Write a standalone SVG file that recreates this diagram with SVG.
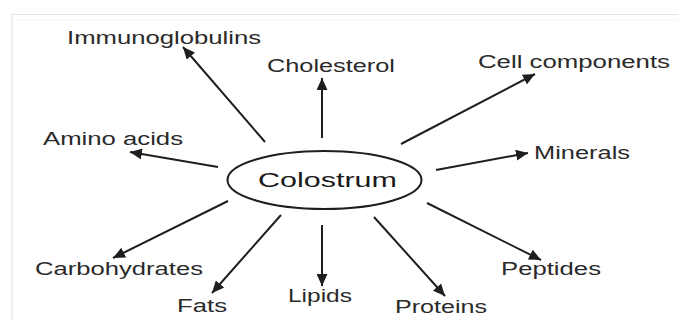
<svg xmlns="http://www.w3.org/2000/svg" width="678" height="320" viewBox="0 0 678 320">
<style>
.lbl{font-family:"Liberation Sans",Arial,sans-serif;font-size:17.5px;fill:#2a2a2a}
.ctr{font-family:"Liberation Sans",Arial,sans-serif;font-size:21px;fill:#1a1a1a}
.con line{stroke:#1e1e1e;stroke-width:2;marker-end:url(#ah)}
.frame{stroke:#e4e4e4;stroke-width:1.2;fill:none}
</style>
<defs>
<marker id="ah" markerUnits="userSpaceOnUse" markerWidth="13" markerHeight="11" refX="12" refY="5.5" orient="auto">
<path d="M0,0 L12,5.5 L0,11 z" fill="#1e1e1e"/>
</marker>
</defs>
<rect width="678" height="320" fill="#ffffff"/>
<path class="frame" d="M12,320 V14.5 H678"/>
<line x1="13" y1="20" x2="678" y2="20" stroke="#f4f4f4" stroke-width="1"/>
<g id="colostrum">
<ellipse cx="324.5" cy="180" rx="97" ry="29" fill="none" stroke="#1e1e1e" stroke-width="2"/>
<text class="ctr" x="258" y="187" textLength="139" lengthAdjust="spacingAndGlyphs">Colostrum</text>
</g>
<g id="immunoglobulins"><text class="lbl" x="67" y="44" textLength="194" lengthAdjust="spacingAndGlyphs">Immunoglobulins</text></g>
<g id="cholesterol"><text class="lbl" x="267" y="72" textLength="128" lengthAdjust="spacingAndGlyphs">Cholesterol</text></g>
<g id="cell-components"><text class="lbl" x="478" y="68" textLength="192" lengthAdjust="spacingAndGlyphs">Cell components</text></g>
<g id="amino-acids"><text class="lbl" x="43" y="145" textLength="140" lengthAdjust="spacingAndGlyphs">Amino acids</text></g>
<g id="minerals"><text class="lbl" x="534" y="159" textLength="96" lengthAdjust="spacingAndGlyphs">Minerals</text></g>
<g id="carbohydrates"><text class="lbl" x="35" y="275" textLength="168" lengthAdjust="spacingAndGlyphs">Carbohydrates</text></g>
<g id="fats"><text class="lbl" x="177" y="312" textLength="50" lengthAdjust="spacingAndGlyphs">Fats</text></g>
<g id="lipids"><text class="lbl" x="288" y="302" textLength="64" lengthAdjust="spacingAndGlyphs">Lipids</text></g>
<g id="proteins"><text class="lbl" x="395" y="313" textLength="92" lengthAdjust="spacingAndGlyphs">Proteins</text></g>
<g id="peptides"><text class="lbl" x="501" y="275" textLength="100" lengthAdjust="spacingAndGlyphs">Peptides</text></g>
<g id="connectors" class="con">
<line x1="265" y1="142" x2="183" y2="47"/>
<line x1="322" y1="138" x2="322" y2="78"/>
<line x1="401" y1="144" x2="535" y2="74"/>
<line x1="218" y1="167" x2="130" y2="152"/>
<line x1="436" y1="170" x2="528" y2="153"/>
<line x1="228" y1="201" x2="113" y2="258"/>
<line x1="281" y1="215" x2="212" y2="293"/>
<line x1="322" y1="225" x2="322" y2="286"/>
<line x1="374" y1="217" x2="445" y2="296"/>
<line x1="427" y1="203" x2="541" y2="260"/>
</g>
</svg>
